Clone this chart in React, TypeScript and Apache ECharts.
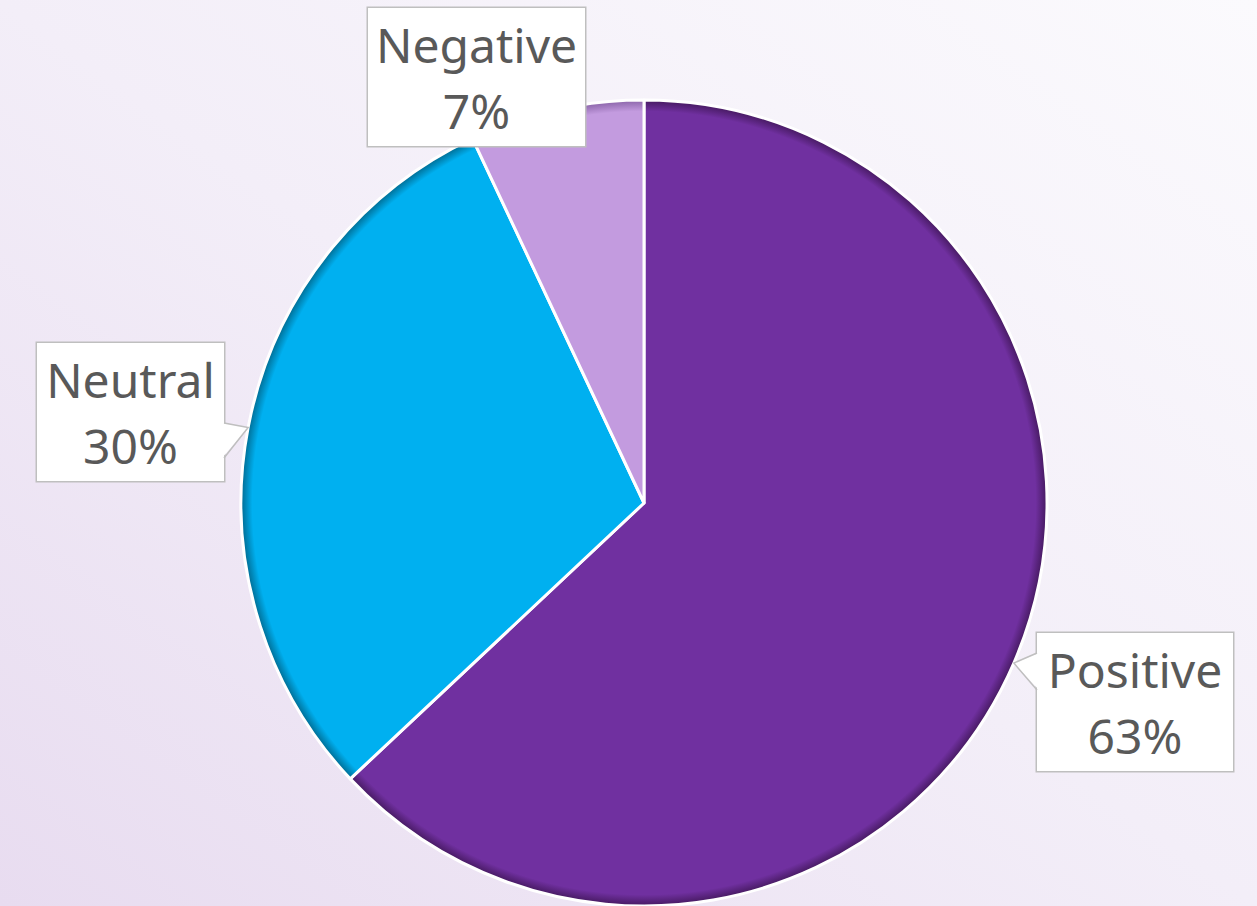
import React, { useEffect, useRef } from "react";
import * as echarts from "echarts";

const categories = ["Positive", "Neutral", "Negative"];
const values = [63, 30, 7];
const colors = ["#7030A0", "#00B0F0", "#C39BDF"];
const shadeColors = ["#45195F", "#006A90", "#8A64A8"];

const CENTER = [644, 503];
const RADIUS = 403;
const labelCenters = [
  [1135, 702],
  [130.5, 412],
  [476.5, 77],
];
const labelWidths = [178, 169, 199];
const boxHalfWidths = [98, 93.5, 108.5];
const pointers: ({ side: "left" | "right"; y0: number; y1: number } | null)[] = [
  { side: "left", y0: 653, y1: 690 },
  { side: "right", y0: 423, y1: 458 },
  null,
];

export default function App() {
  const ref = useRef<HTMLDivElement>(null);
  useEffect(() => {
    if (!ref.current) return;
    const chart = echarts.init(ref.current, null, { renderer: "svg" });
    const total = values.reduce((a, b) => a + b, 0);
    let cum = 0;
    const graphics: any[] = [];
    values.forEach((v, i) => {
      const mid = ((cum + v / 2) / total) * Math.PI * 2;
      cum += v;
      const p = pointers[i];
      if (!p) return;
      const tip = [CENTER[0] + RADIUS * Math.sin(mid), CENTER[1] - RADIUS * Math.cos(mid)];
      const edgeX =
        p.side === "left"
          ? labelCenters[i][0] - boxHalfWidths[i]
          : labelCenters[i][0] + boxHalfWidths[i];
      const inset = p.side === "left" ? 2 : -2;
      graphics.push({
        type: "polygon",
        z: 100,
        silent: true,
        shape: {
          points: [
            [edgeX + inset, p.y0],
            [tip[0], tip[1]],
            [edgeX + inset, p.y1],
          ],
        },
        style: { fill: "#FFFFFF", stroke: "none" },
      });
      graphics.push({
        type: "polyline",
        z: 101,
        silent: true,
        shape: {
          points: [
            [edgeX, p.y0],
            [tip[0], tip[1]],
            [edgeX, p.y1],
          ],
        },
        style: { stroke: "#BFBFBF", lineWidth: 1.5, fill: "none" },
      });
    });

    const data = categories.map((name, i) => ({
      name,
      value: values[i],
      label: { width: labelWidths[i] },
      itemStyle: {
        color: {
          type: "radial",
          x: CENTER[0],
          y: CENTER[1],
          r: RADIUS,
          global: true,
          colorStops: [
            { offset: 0, color: colors[i] },
            { offset: 0.972, color: colors[i] },
            { offset: 1, color: shadeColors[i] },
          ],
        },
      },
    }));

    chart.setOption({
      animation: false,
      backgroundColor: {
        type: "linear",
        x: 1,
        y: 0,
        x2: 0,
        y2: 1,
        colorStops: [
          { offset: 0, color: "#FBFAFD" },
          { offset: 0.5, color: "#F3EEF8" },
          { offset: 1, color: "#E8DCF0" },
        ],
      },
      graphic: graphics,
      series: [
        {
          type: "pie",
          center: CENTER,
          radius: RADIUS,
          startAngle: 90,
          clockwise: true,
          silent: true,
          data,
          itemStyle: { borderColor: "#FFFFFF", borderWidth: 3 },
          emphasis: { disabled: true },
          labelLine: { show: false },
          label: {
            show: true,
            position: "outside",
            formatter: (p: any) => `${p.name}\n${p.value}%`,
            color: "#595959",
            fontFamily: "Noto Sans",
            fontSize: 48,
            lineHeight: 66,
            align: "center",
            overflow: "none",
            backgroundColor: "#FFFFFF",
            borderColor: "#BFBFBF",
            borderWidth: 1.5,
            padding: [4, 9, 2, 9],
          },
          labelLayout: (params: any) => ({
            x: labelCenters[params.dataIndex][0],
            y: labelCenters[params.dataIndex][1],
            align: "center",
            verticalAlign: "middle",
          }),
        },
      ],
    });
    return () => chart.dispose();
  }, []);
  return (
    <div
      ref={ref}
      style={{ position: "fixed", left: 0, top: 0, width: 1257, height: 906 }}
    />
  );
}
